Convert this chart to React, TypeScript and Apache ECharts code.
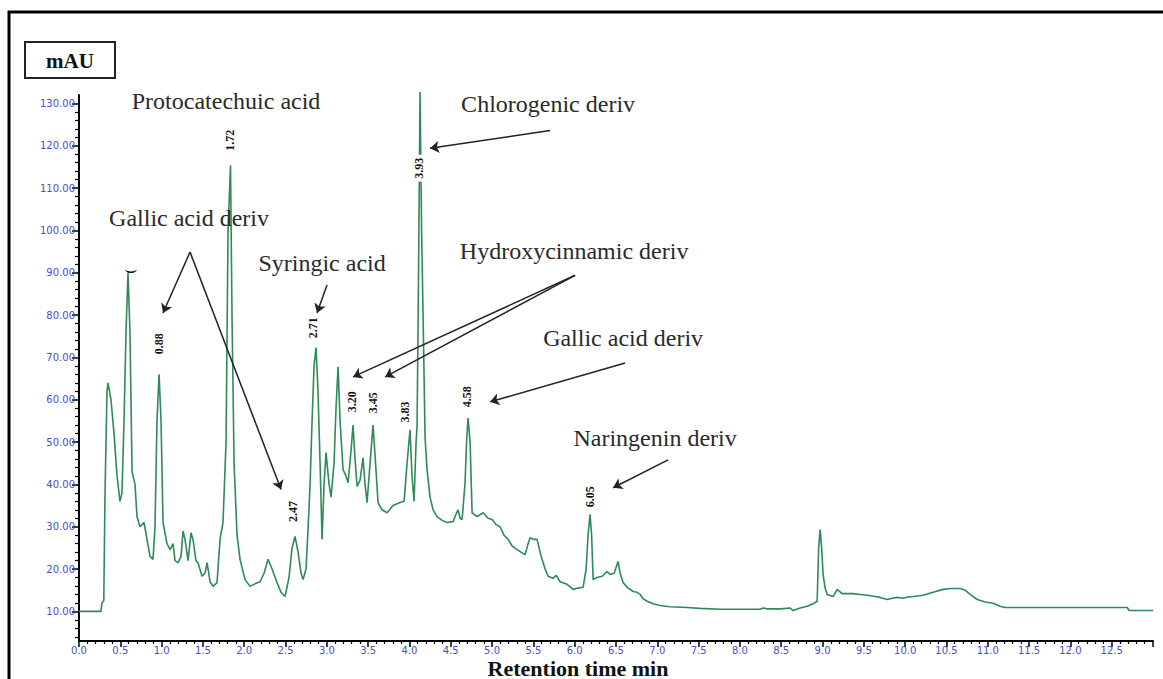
import { useEffect, useRef } from 'react';
import * as echarts from 'echarts';

// Retention time (min) and absorbance (mAU)
const times = [0.00, 0.266, 0.278, 0.30, 0.315, 0.339, 0.351, 0.387, 0.424, 0.46,
  0.496, 0.52, 0.545, 0.569, 0.593, 0.617, 0.642, 0.678, 0.702, 0.738,
  0.787, 0.823, 0.86, 0.896, 0.92, 0.944, 0.969, 0.993, 1.017, 1.065,
  1.102, 1.138, 1.162, 1.199, 1.235, 1.259, 1.283, 1.32, 1.356, 1.38,
  1.416, 1.44, 1.489, 1.525, 1.55, 1.586, 1.622, 1.671, 1.707, 1.743,
  1.78, 1.804, 1.834, 1.852, 1.877, 1.913, 1.949, 2.01, 2.07, 2.13,
  2.191, 2.24, 2.288, 2.337, 2.397, 2.446, 2.494, 2.542, 2.579, 2.615,
  2.652, 2.688, 2.712, 2.748, 2.772, 2.797, 2.821, 2.845, 2.869, 2.893,
  2.918, 2.942, 2.966, 2.99, 3.027, 3.051, 3.087, 3.111, 3.136, 3.16,
  3.196, 3.232, 3.257, 3.293, 3.317, 3.341, 3.366, 3.402, 3.438, 3.462,
  3.487, 3.523, 3.559, 3.583, 3.62, 3.668, 3.729, 3.801, 3.886, 3.935,
  3.971, 4.007, 4.031, 4.056, 4.08, 4.092, 4.11, 4.128, 4.147, 4.165,
  4.189, 4.213, 4.249, 4.286, 4.334, 4.395, 4.455, 4.528, 4.564, 4.588,
  4.613, 4.637, 4.673, 4.691, 4.709, 4.734, 4.758, 4.818, 4.891, 4.952,
  5.0, 5.048, 5.097, 5.145, 5.194, 5.242, 5.303, 5.351, 5.4, 5.436,
  5.46, 5.509, 5.545, 5.581, 5.605, 5.642, 5.678, 5.738, 5.775, 5.823,
  5.908, 5.981, 6.041, 6.102, 6.138, 6.162, 6.186, 6.205, 6.223, 6.271,
  6.332, 6.392, 6.429, 6.477, 6.525, 6.55, 6.586, 6.646, 6.707, 6.755,
  6.792, 6.828, 6.877, 6.949, 7.034, 7.155, 7.361, 7.518, 7.76, 8.002,
  8.245, 8.281, 8.329, 8.487, 8.608, 8.644, 8.729, 8.814, 8.886, 8.935,
  8.953, 8.971, 8.989, 9.007, 9.031, 9.056, 9.128, 9.177, 9.237, 9.37,
  9.455, 9.54, 9.637, 9.697, 9.782, 9.843, 9.903, 9.976, 10.036, 10.097,
  10.218, 10.339, 10.46, 10.545, 10.666, 10.726, 10.787, 10.872, 10.969, 11.065,
  11.15, 11.211, 12.688, 12.712, 13.0];

const absorbance = [10, 10, 12, 12.5, 38, 62, 64, 60, 52, 42,
  36, 38, 55, 76, 90, 76, 43, 40, 32.4, 30,
  31, 27, 23, 22.3, 30, 55, 66, 55, 31, 26,
  24.6, 26, 22, 21.5, 23, 29, 27, 22, 28.6, 27,
  22, 21.5, 18.3, 19, 21.5, 17, 15.9, 16.8, 27, 31,
  50, 100, 115.4, 80, 45, 28, 22.3, 17.5, 15.9, 16.5,
  17, 19, 22.3, 20, 16.8, 14.5, 13.5, 18, 25, 27.7,
  24, 19, 17.5, 20, 29.3, 40, 55, 68, 72.3, 62,
  45, 27, 40, 47.5, 40, 37, 45, 58, 67.8, 55,
  43.5, 42, 40.4, 48, 54, 46, 39.5, 41, 46.3, 40,
  35.7, 45, 54, 47, 35.7, 34, 33.3, 35, 35.7, 36,
  45, 52.9, 42, 36, 50, 53.6, 90, 132.7, 100, 79.6,
  51, 43.5, 37, 34, 32.4, 31.5, 31, 31.2, 33, 34,
  32, 31.7, 40.4, 50, 55.7, 50, 33.3, 32.4, 33.3, 32,
  31.7, 30.5, 30, 28, 27, 25.5, 24.6, 24, 23.4, 26,
  27.4, 27, 27, 24, 22.3, 20, 18.3, 17.8, 18.5, 17,
  16.4, 15.2, 15.5, 15.7, 20, 28, 32.9, 28, 17.5, 18,
  18.3, 19.4, 18.7, 19, 21.8, 19, 16.8, 15.5, 14.7, 14.5,
  14, 13, 12.4, 11.8, 11.4, 11.1, 10.9, 10.7, 10.5, 10.5,
  10.5, 10.8, 10.6, 10.6, 10.8, 10.2, 10.8, 11.2, 11.8, 12.4,
  25, 29.3, 25, 18.7, 15.5, 14, 13.5, 15.2, 14.2, 14.2,
  14, 13.8, 13.5, 13.3, 12.8, 13.1, 13.3, 13.1, 13.4, 13.5,
  13.8, 14.5, 15.2, 15.4, 15.4, 15, 14, 12.8, 12.2, 11.9,
  11.2, 10.9, 10.9, 10.2, 10.2];

// Axis ticks
const yMajorTicks = [10, 20, 30, 40, 50, 60, 70, 80, 90, 100, 110, 120, 130];
const yMinorTicks = [4, 6, 8, 12, 14, 16, 18, 22, 24, 26, 28, 32, 34, 36, 38, 42, 44, 46, 48,
  52, 54, 56, 58, 62, 64, 66, 68, 72, 74, 76, 78, 82, 84, 86, 88, 92, 94, 96, 98,
  102, 104, 106, 108, 112, 114, 116, 118, 122, 124, 126, 128];

// Peak retention-time tags (vertical labels) and their anchor [time, mAU]
const peakTags = ['(', '0.88', '1.72', '2.47', '2.71', '3.20', '3.45', '3.83', '3.93', '4.58', '6.05'];
const peakTagAt = [[0.62, 90.3], [0.969, 73.2], [1.828, 121.3], [2.591, 33.6], [2.833, 77],
  [3.305, 59.5], [3.559, 59.3], [3.947, 57.1], [4.116, 114.7], [4.697, 60.7], [6.186, 37.1]];

// Compound annotations and their centres [time, mAU]
const compoundNames = ['Protocatechuic acid', 'Chlorogenic deriv', 'Gallic acid deriv', 'Syringic acid',
  'Hydroxycinnamic deriv', 'Gallic acid deriv', 'Naringenin deriv'];
const compoundAt = [[1.78, 130.5], [5.678, 129.8], [1.332, 102.9], [2.942, 92.3],
  [5.993, 95.1], [6.586, 74.6], [6.973, 51]];

// Arrows from annotation to peak [time, mAU]
const arrowFrom = [[1.344, 94.9], [1.344, 94.9], [3.002, 87.1], [5.702, 123.6],
  [6.005, 89.4], [6.005, 89.4], [6.61, 68.7], [7.131, 45.8]];
const arrowTo = [[1.017, 80.5], [2.446, 38.8], [2.881, 80.5], [4.249, 119.4],
  [3.317, 65.4], [3.705, 65.4], [4.976, 59.5], [6.465, 39.2]];

const SERIF = "'Liberation Serif', 'Times New Roman', serif";
const TICK_BLUE = '#4b4bd6';

export default function App() {
  const ref = useRef<HTMLDivElement>(null);

  useEffect(() => {
    if (!ref.current) return;
    const chart = echarts.init(ref.current, undefined, { renderer: 'svg' });

    const peakPoints = peakTags.map((tag, i) => ({
      coord: peakTagAt[i],
      symbol: 'circle',
      symbolSize: 1,
      itemStyle: { color: 'rgba(0,0,0,0)' },
      label: {
        show: true,
        position: 'inside',
        formatter: tag,
        rotate: 90,
        fontFamily: SERIF,
        fontWeight: 'bold',
        fontSize: 12,
        color: '#111',
        align: 'center',
        verticalAlign: 'middle',
        backgroundColor: tag === '3.93' ? '#fff' : undefined,
        padding: tag === '3.93' ? [0, 3] : 0,
      },
    }));

    const namePoints = compoundNames.map((name, i) => ({
      coord: compoundAt[i],
      symbol: 'circle',
      symbolSize: 1,
      itemStyle: { color: 'rgba(0,0,0,0)' },
      label: {
        show: true,
        position: 'inside',
        formatter: name,
        fontFamily: SERIF,
        fontSize: 24,
        color: '#2a2a2a',
        align: 'center',
        verticalAlign: 'middle',
      },
    }));

    const arrows = arrowFrom.map((from, i) => [
      { coord: from },
      { coord: arrowTo[i] },
    ]);

    chart.setOption({
      animation: false,
      backgroundColor: '#ffffff',
      grid: { left: 79, right: 10, top: 95, bottom: 38, containLabel: false },
      xAxis: [{
        type: 'value',
        min: 0,
        max: 13,
        interval: 0.5,
        position: 'bottom',
        axisLine: { show: true, onZero: false, lineStyle: { color: '#000', width: 2 } },
        axisTick: { show: true, length: 6, lineStyle: { color: '#000', width: 1.5 } },
        minorTick: { show: true, splitNumber: 5, length: 3, lineStyle: { color: '#000', width: 1.2 } },
        splitLine: { show: false },
        minorSplitLine: { show: false },
        axisLabel: {
          color: TICK_BLUE,
          fontSize: 10,
          fontFamily: 'DejaVu Sans',
          margin: 4,
          showMaxLabel: false,
          formatter: (v: number) => (v >= 13 ? '' : v.toFixed(1)),
        },
      }],
      yAxis: [{
        type: 'value',
        min: 3,
        max: 132,
        position: 'left',
        axisLine: { show: true, onZero: false, lineStyle: { color: '#000', width: 2 } },
        axisTick: { show: true, length: 7, customValues: yMajorTicks, lineStyle: { color: '#000', width: 1.5 } },
        axisLabel: {
          show: true,
          customValues: yMajorTicks,
          color: TICK_BLUE,
          fontSize: 10,
          fontFamily: 'DejaVu Sans',
          margin: 4,
          formatter: (v: number) => v.toFixed(2),
        },
        splitLine: { show: false },
      }, {
        type: 'value',
        min: 3,
        max: 132,
        position: 'left',
        offset: 0,
        axisLine: { show: false },
        axisTick: { show: true, length: 4, customValues: yMinorTicks, lineStyle: { color: '#000', width: 1.2 } },
        axisLabel: { show: false },
        splitLine: { show: false },
      }],
      series: [{
        type: 'line',
        data: times.map((t, i) => [t, absorbance[i]]),
        symbol: 'none',
        showSymbol: false,
        clip: false,
        lineStyle: { color: '#2e8b57', width: 1.6 },
        silent: true,
        markPoint: {
          silent: true,
          data: [...namePoints, ...peakPoints],
        },
        markLine: {
          silent: true,
          symbol: ['none', 'arrow'],
          symbolSize: 9,
          label: { show: false },
          lineStyle: { color: '#222', width: 1.5, type: 'solid' },
          data: arrows,
        },
      }],
      graphic: [
        {
          type: 'rect',
          shape: { x: 9, y: 12, width: 1200, height: 720 },
          style: { fill: 'none', stroke: '#000', lineWidth: 3 },
          silent: true,
        },
        {
          type: 'rect',
          shape: { x: 25, y: 42, width: 90, height: 36 },
          style: { fill: '#fff', stroke: '#222', lineWidth: 2 },
          silent: true,
        },
        {
          type: 'text',
          x: 70,
          y: 61,
          style: {
            text: 'mAU',
            fontFamily: SERIF,
            fontWeight: 'bold',
            fontSize: 21,
            fill: '#111',
            align: 'center',
            verticalAlign: 'middle',
          },
          silent: true,
        },
        {
          type: 'text',
          x: 578,
          y: 668,
          style: {
            text: 'Retention time min',
            fontFamily: SERIF,
            fontWeight: 'bold',
            fontSize: 22,
            fill: '#111',
            align: 'center',
            verticalAlign: 'middle',
          },
          silent: true,
        },
      ],
    });

    return () => chart.dispose();
  }, []);

  return (
    <div
      ref={ref}
      style={{ position: 'absolute', left: 0, top: 0, width: 1163, height: 679, background: '#fff' }}
    />
  );
}
